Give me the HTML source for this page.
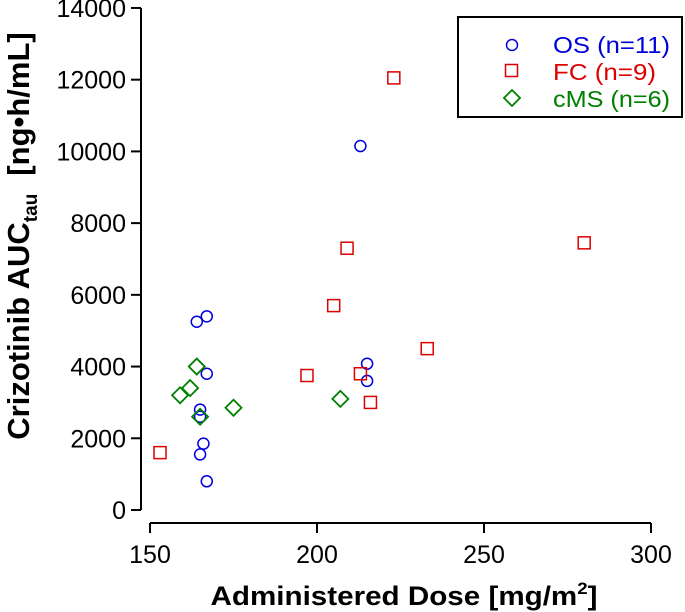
<!DOCTYPE html>
<html><head><meta charset="utf-8"><style>
html,body{margin:0;padding:0;background:#fff;}
svg{display:block;font-family:"Liberation Sans",Arial,sans-serif;}
</style></head><body>
<svg id="chart" width="685" height="612" viewBox="0 0 685 612">
<g id="axes"></g><g id="marks"></g>
<g>
<rect x="458" y="17" width="224" height="100" fill="#fff" stroke="#000" stroke-width="2"/>
<circle cx="512" cy="45" r="5.5" fill="none" stroke="#0000dd" stroke-width="1.5"/>
<text x="553" y="53" font-size="23" fill="#0000dd" textLength="117" lengthAdjust="spacingAndGlyphs">OS (n=11)</text>
<rect x="505.5" y="64.5" width="12" height="12" fill="none" stroke="#dd0000" stroke-width="1.5"/>
<text x="553" y="80" font-size="23" fill="#dd0000" textLength="103" lengthAdjust="spacingAndGlyphs">FC (n=9)</text>
<polygon points="512,90 520,98 512,106 504,98" fill="none" stroke="#008000" stroke-width="1.8"/>
<text x="553" y="107" font-size="23" fill="#008000" textLength="117" lengthAdjust="spacingAndGlyphs">cMS (n=6)</text>
</g>
<text transform="translate(29,236) rotate(-90)" text-anchor="middle" font-size="31" font-weight="bold">Crizotinib AUC<tspan font-size="19" dy="8">tau</tspan><tspan dy="-8" dx="18">[ng•h/mL]</tspan></text>
<text x="404" y="605" text-anchor="middle" font-size="27" font-weight="bold" textLength="387" lengthAdjust="spacingAndGlyphs">Administered Dose [mg/m<tspan font-size="17" dy="-11">2</tspan><tspan dy="11">]</tspan></text>
</svg>
<script>
const xTicks=[150,200,250,300];
const yTicks=[0,2000,4000,6000,8000,10000,12000,14000];
const osDose=[164,167,167,165,165,166,165,167,213,215,215];
const osAuc=[5250,5400,3800,2800,2600,1850,1550,800,10150,4080,3600];
const fcDose=[153,197,205,209,213,216,223,233,280];
const fcAuc=[1600,3750,5700,7300,3800,3000,12050,4500,7450];
const cmsDose=[159,162,164,165,175,207];
const cmsAuc=[3200,3400,4000,2600,2850,3100];
const NS='http://www.w3.org/2000/svg';
const xs=v=>150+(v-150)*3.34;
const ys=v=>510-v*0.03586;
function mk(tag,attrs,parent,txt){const e=document.createElementNS(NS,tag);for(const k in attrs)e.setAttribute(k,attrs[k]);if(txt!=null)e.textContent=txt;parent.appendChild(e);return e;}
const ax=document.getElementById('axes'),mg=document.getElementById('marks');
let l=mk('line',{x1:141,y1:ys(0),x2:141,y2:ys(14000),stroke:'#000','stroke-width':2},ax);


l=mk('line',{x1:xs(150),y1:523,x2:xs(300),y2:523,stroke:'#000','stroke-width':2},ax);


yTicks.forEach(t=>{const y=ys(t);
 let e=mk('line',{x1:131,y1:y,x2:141,y2:y,stroke:'#000','stroke-width':2},ax);
 
 
 e=mk('text',{x:126,y:y+9,'text-anchor':'end','font-size':25},ax,String(t));
 
 });
xTicks.forEach(t=>{const x=xs(t);
 let e=mk('line',{x1:x,y1:523,x2:x,y2:533,stroke:'#000','stroke-width':2},ax);
 
 
 e=mk('text',{x:x,y:563,'text-anchor':'middle','font-size':25},ax,String(t));
 
 });
osDose.forEach((d,i)=>{const e=mk('circle',{cx:xs(d),cy:ys(osAuc[i]),r:5.5,fill:'none',stroke:'#0000dd','stroke-width':1.5},mg);
 
 });
fcDose.forEach((d,i)=>{const x=xs(d),y=ys(fcAuc[i]);const e=mk('rect',{x:x-6,y:y-6,width:12,height:12,fill:'none',stroke:'#dd0000','stroke-width':1.5},mg);
 
 });
cmsDose.forEach((d,i)=>{const x=xs(d),y=ys(cmsAuc[i]);const e=mk('polygon',{points:`${x},${y-8} ${x+8},${y} ${x},${y+8} ${x-8},${y}`,fill:'none',stroke:'#008000','stroke-width':1.8},mg);
 
 });
</script>
</body></html>
